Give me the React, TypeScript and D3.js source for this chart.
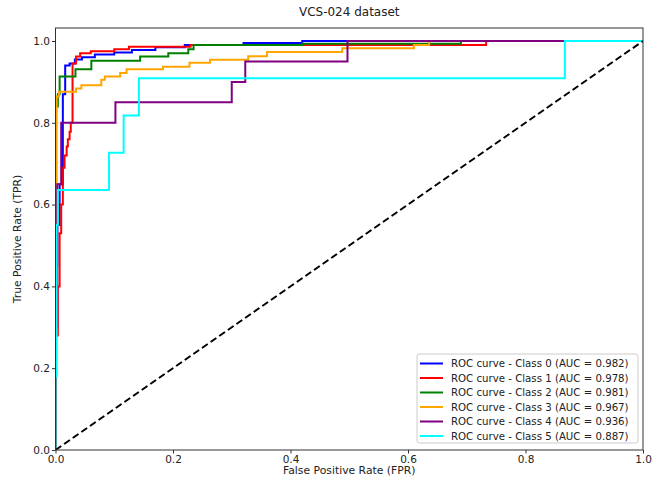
import React, { useEffect, useRef } from "react";
import * as d3 from "d3";

const classLabels = ["Class 0", "Class 1", "Class 2", "Class 3", "Class 4", "Class 5"];
const aucValues = [0.982, 0.978, 0.981, 0.967, 0.936, 0.887];
const lineColors = ["#0000ff", "#ff0000", "#008000", "#ffa500", "#800080", "#00ffff"];
const tickValues = [0, 0.2, 0.4, 0.6, 0.8, 1.0];

const roc0: [number, number][] = [
  [0, 0], [0, 0.45], [0.003, 0.45], [0.003, 0.55], [0.007, 0.55], [0.007, 0.65], [0.0125, 0.65],
  [0.0125, 0.87], [0.0165, 0.87], [0.0165, 0.94], [0.024, 0.94], [0.024, 0.945], [0.033, 0.945],
  [0.033, 0.955], [0.045, 0.955], [0.045, 0.96], [0.067, 0.96], [0.067, 0.967], [0.1, 0.967],
  [0.1, 0.972], [0.13, 0.972], [0.13, 0.978], [0.17, 0.978], [0.17, 0.985], [0.22, 0.985],
  [0.22, 0.99], [0.32, 0.99], [0.32, 0.995], [0.42, 0.995], [0.42, 1], [1, 1],
];
const roc1: [number, number][] = [
  [0, 0], [0, 0.28], [0.004, 0.28], [0.004, 0.4], [0.007, 0.4], [0.007, 0.53], [0.0097, 0.53],
  [0.0097, 0.6], [0.0125, 0.6], [0.0125, 0.69], [0.0154, 0.69], [0.0154, 0.72], [0.019, 0.72],
  [0.019, 0.742], [0.021, 0.742], [0.021, 0.76], [0.024, 0.76], [0.024, 0.778], [0.026, 0.778],
  [0.026, 0.8], [0.029, 0.8], [0.029, 0.945], [0.035, 0.945], [0.035, 0.962], [0.042, 0.962],
  [0.042, 0.97], [0.06, 0.97], [0.06, 0.975], [0.1, 0.975], [0.1, 0.98], [0.125, 0.98],
  [0.125, 0.986], [0.23, 0.986], [0.23, 0.99], [0.733, 0.99], [0.733, 1], [1, 1],
];
const roc2: [number, number][] = [
  [0, 0], [0, 0.84], [0.004, 0.84], [0.004, 0.87], [0.007, 0.87], [0.007, 0.913], [0.034, 0.913],
  [0.034, 0.931], [0.061, 0.931], [0.061, 0.952], [0.144, 0.952], [0.144, 0.962], [0.192, 0.962],
  [0.192, 0.97], [0.226, 0.97], [0.226, 0.98], [0.235, 0.98], [0.235, 0.99], [0.42, 0.99],
  [0.42, 0.993], [0.69, 0.993], [0.69, 1], [1, 1],
];
const roc3: [number, number][] = [
  [0, 0], [0, 0.65], [0.002, 0.65], [0.002, 0.864], [0.006, 0.864], [0.006, 0.876], [0.035, 0.876],
  [0.035, 0.884], [0.044, 0.884], [0.044, 0.892], [0.078, 0.892], [0.078, 0.905], [0.084, 0.905],
  [0.084, 0.913], [0.11, 0.913], [0.11, 0.922], [0.121, 0.922], [0.121, 0.931], [0.183, 0.931],
  [0.183, 0.937], [0.228, 0.937], [0.228, 0.947], [0.263, 0.947], [0.263, 0.954], [0.328, 0.954],
  [0.328, 0.963], [0.36, 0.963], [0.36, 0.973], [0.488, 0.973], [0.488, 0.982], [0.61, 0.982],
  [0.61, 0.99], [0.636, 0.99], [0.636, 1], [1, 1],
];
const roc4: [number, number][] = [
  [0, 0], [0, 0.3], [0.003, 0.3], [0.003, 0.65], [0.0097, 0.65], [0.0097, 0.8], [0.102, 0.8],
  [0.102, 0.85], [0.3, 0.85], [0.3, 0.9], [0.323, 0.9], [0.323, 0.95], [0.497, 0.95], [0.497, 1], [1, 1],
];
const roc5: [number, number][] = [
  [0, 0], [0, 0.18], [0.002, 0.18], [0.002, 0.55], [0.004, 0.55], [0.004, 0.636], [0.091, 0.636],
  [0.091, 0.727], [0.116, 0.727], [0.116, 0.818], [0.142, 0.818], [0.142, 0.909], [0.867, 0.909],
  [0.867, 1], [1, 1],
];
const rocCurves = [roc0, roc1, roc2, roc3, roc4, roc5];
const diagonal: [number, number][] = [[0, 0], [1, 1]];

const W = 661;
const H = 483;
const FONT = "DejaVu Sans, sans-serif";

export default function App() {
  const ref = useRef<SVGSVGElement | null>(null);

  useEffect(() => {
    const svg = d3.select(ref.current);
    svg.selectAll("*").remove();

    const x0 = 55.5, x1 = 643, y0 = 450, yTop = 28;
    const x = d3.scaleLinear().domain([0, 1]).range([x0, x1]);
    const y = d3.scaleLinear().domain([0, 1]).range([y0, 41]);

    svg.append("rect").attr("width", W).attr("height", H).attr("fill", "#fff");

    const line = d3.line<[number, number]>().x((d) => x(d[0])).y((d) => y(d[1]));

    const g = svg.append("g");
    g.append("clipPath").attr("id", "clip")
      .append("rect").attr("x", x0).attr("y", yTop).attr("width", x1 - x0).attr("height", y0 - yTop);

    const plot = g.append("g").attr("clip-path", "url(#clip)");
    rocCurves.forEach((c, i) => {
      plot.append("path").datum(c).attr("d", line).attr("fill", "none")
        .attr("stroke", lineColors[i]).attr("stroke-width", 2).attr("stroke-linejoin", "miter");
    });
    plot.append("path").datum(diagonal).attr("d", line).attr("fill", "none")
      .attr("stroke", "#000").attr("stroke-width", 2).attr("stroke-dasharray", "7,3.5");

    // frame
    g.append("rect").attr("x", x0).attr("y", yTop).attr("width", x1 - x0).attr("height", y0 - yTop)
      .attr("fill", "none").attr("stroke", "#333").attr("stroke-width", 1);

    // x ticks
    const xAxis = d3.axisBottom(x).tickValues(tickValues).tickFormat(d3.format(".1f")).tickSizeOuter(0).tickSize(3.5).tickPadding(2);
    const gx = g.append("g").attr("transform", `translate(0,${y0})`).call(xAxis);
    gx.select(".domain").remove();
    gx.selectAll("line").attr("stroke", "#333");
    gx.selectAll("text").attr("font-family", FONT).attr("font-size", 10.5).attr("fill", "#222");

    const yAxis = d3.axisLeft(y).tickValues(tickValues).tickFormat(d3.format(".1f")).tickSizeOuter(0).tickSize(3.5).tickPadding(2);
    const gy = g.append("g").attr("transform", `translate(${x0},0)`).call(yAxis);
    gy.select(".domain").remove();
    gy.selectAll("line").attr("stroke", "#333");
    gy.selectAll("text").attr("font-family", FONT).attr("font-size", 10.5).attr("fill", "#222");

    // title & labels
    svg.append("text").attr("x", (x0 + x1) / 2).attr("y", 16).attr("text-anchor", "middle")
      .attr("font-family", FONT).attr("font-size", 12).attr("fill", "#222").text("VCS-024 dataset");
    svg.append("text").attr("x", (x0 + x1) / 2).attr("y", 474).attr("text-anchor", "middle")
      .attr("font-family", FONT).attr("font-size", 10.8).attr("fill", "#222").text("False Positive Rate (FPR)");
    svg.append("text").attr("transform", `translate(21,${(y0 + yTop) / 2}) rotate(-90)`).attr("text-anchor", "middle")
      .attr("font-family", FONT).attr("font-size", 10.8).attr("fill", "#222").text("True Positive Rate (TPR)");

    // legend
    const lx = 417, ly = 354, lw = 221, lh = 89;
    const lg = svg.append("g");
    lg.append("rect").attr("x", lx).attr("y", ly).attr("width", lw).attr("height", lh).attr("rx", 2.5)
      .attr("fill", "#fff").attr("fill-opacity", 0.8).attr("stroke", "#ccc").attr("stroke-width", 1);
    classLabels.forEach((c, i) => {
      const yy = 363.5 + i * 14.5;
      lg.append("line").attr("x1", 420).attr("x2", 443).attr("y1", yy).attr("y2", yy)
        .attr("stroke", lineColors[i]).attr("stroke-width", 2);
      lg.append("text").attr("x", 451).attr("y", yy).attr("dy", "0.35em")
        .attr("font-family", FONT).attr("font-size", 10.2).attr("fill", "#222")
        .text(`ROC curve - ${c} (AUC = ${aucValues[i].toFixed(3)})`);
    });
  }, []);

  return (
    <svg ref={ref} width={W} height={H} style={{ position: "absolute", left: 0, top: 0, display: "block" }} />
  );
}
